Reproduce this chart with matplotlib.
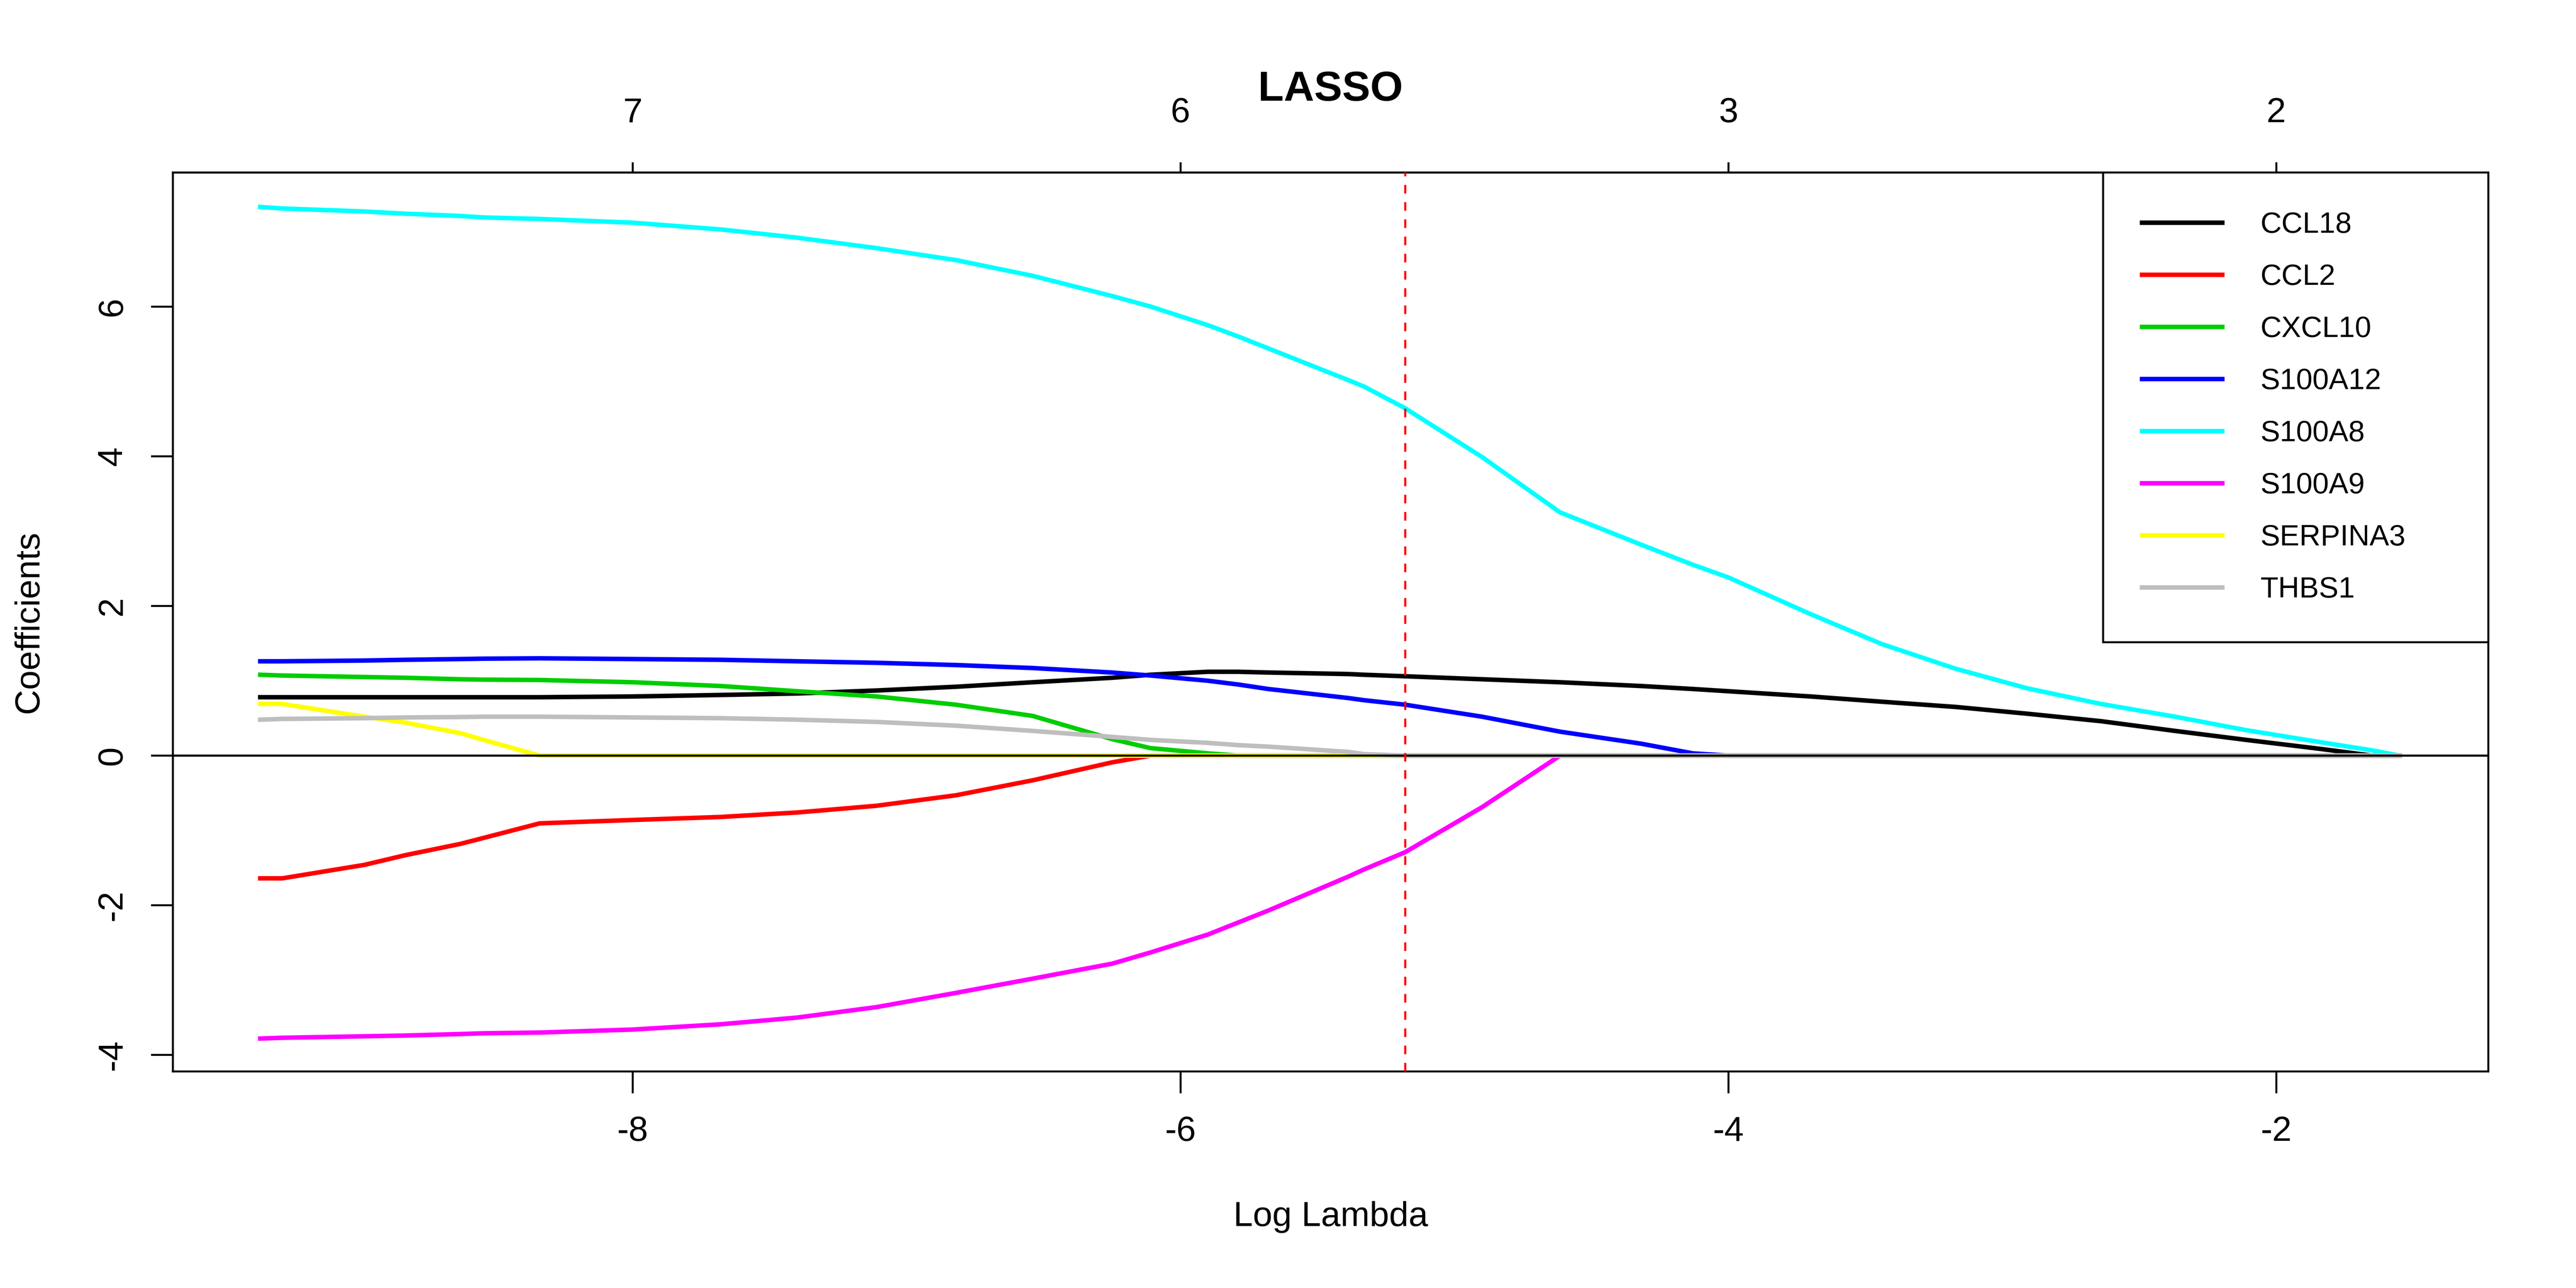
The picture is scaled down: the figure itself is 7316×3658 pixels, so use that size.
import matplotlib
matplotlib.use("Agg")
import matplotlib.pyplot as plt

plt.rcParams["font.family"] = ["Liberation Sans", "DejaVu Sans"]
plt.rcParams["axes.unicode_minus"] = False

# log(lambda) grid of the path
log_lambda = [-9.36, -9.28, -8.98, -8.83, -8.63, -8.545, -8.34, -8.0, -7.68, -7.40,
              -7.11, -6.82, -6.54, -6.25, -6.11, -5.90, -5.79, -5.68, -5.39, -5.33,
              -5.18, -4.90, -4.615, -4.32, -4.13, -4.0, -3.70, -3.44, -3.17, -2.91,
              -2.64, -2.37, -2.11, -1.84, -1.65, -1.55]

genes = ["CCL18", "CCL2", "CXCL10", "S100A12", "S100A8", "S100A9", "SERPINA3", "THBS1"]
colors = ["#000000", "#FF0000", "#00CD00", "#0000FF", "#00FFFF", "#FF00FF", "#FFFF00", "#BEBEBE"]

ccl18 = [0.78, 0.78, 0.78, 0.78, 0.78, 0.78, 0.78, 0.79, 0.81, 0.83,
         0.87, 0.92, 0.98, 1.04, 1.08, 1.12, 1.12, 1.11, 1.09, 1.08,
         1.06, 1.02, 0.98, 0.93, 0.89, 0.86, 0.79, 0.72, 0.65, 0.56,
         0.46, 0.33, 0.21, 0.09, 0.0, 0.0]
ccl2 = [-1.64, -1.64, -1.46, -1.33, -1.18, -1.10, -0.905, -0.86, -0.82, -0.76,
        -0.67, -0.53, -0.33, -0.09, 0.0, 0.0, 0.0, 0.0, 0.0, 0.0,
        0.0, 0.0, 0.0, 0.0, 0.0, 0.0, 0.0, 0.0, 0.0, 0.0,
        0.0, 0.0, 0.0, 0.0, 0.0, 0.0]
cxcl10 = [1.08, 1.07, 1.05, 1.04, 1.02, 1.015, 1.01, 0.98, 0.93, 0.86,
          0.79, 0.68, 0.53, 0.22, 0.10, 0.03, 0.0, 0.0, 0.0, 0.0,
          0.0, 0.0, 0.0, 0.0, 0.0, 0.0, 0.0, 0.0, 0.0, 0.0,
          0.0, 0.0, 0.0, 0.0, 0.0, 0.0]
s100a12 = [1.26, 1.26, 1.27, 1.28, 1.29, 1.295, 1.30, 1.29, 1.28, 1.26,
           1.24, 1.21, 1.17, 1.11, 1.07, 1.00, 0.95, 0.89, 0.77, 0.74,
           0.68, 0.52, 0.32, 0.16, 0.03, 0.0, 0.0, 0.0, 0.0, 0.0,
           0.0, 0.0, 0.0, 0.0, 0.0, 0.0]
s100a8 = [7.33, 7.31, 7.27, 7.24, 7.21, 7.19, 7.17, 7.12, 7.03, 6.92,
          6.78, 6.62, 6.41, 6.14, 6.00, 5.75, 5.60, 5.44, 5.02, 4.93,
          4.64, 3.99, 3.25, 2.82, 2.55, 2.38, 1.89, 1.49, 1.16, 0.90,
          0.69, 0.52, 0.34, 0.18, 0.07, 0.0]
s100a9 = [-3.78, -3.77, -3.75, -3.74, -3.72, -3.71, -3.70, -3.66, -3.59, -3.50,
          -3.36, -3.17, -2.98, -2.78, -2.63, -2.39, -2.23, -2.07, -1.62, -1.52,
          -1.29, -0.69, 0.0, 0.0, 0.0, 0.0, 0.0, 0.0, 0.0, 0.0,
          0.0, 0.0, 0.0, 0.0, 0.0, 0.0]
serpina3 = [0.69, 0.69, 0.52, 0.44, 0.30, 0.21, 0.0, 0.0, 0.0, 0.0,
            0.0, 0.0, 0.0, 0.0, 0.0, 0.0, 0.0, 0.0, 0.0, 0.0,
            0.0, 0.0, 0.0, 0.0, 0.0, 0.0, 0.0, 0.0, 0.0, 0.0,
            0.0, 0.0, 0.0, 0.0, 0.0, 0.0]
thbs1 = [0.48, 0.49, 0.50, 0.51, 0.515, 0.52, 0.52, 0.51, 0.50, 0.48,
         0.45, 0.40, 0.33, 0.25, 0.21, 0.17, 0.14, 0.12, 0.05, 0.02,
         0.0, 0.0, 0.0, 0.0, 0.0, 0.0, 0.0, 0.0, 0.0, 0.0,
         0.0, 0.0, 0.0, 0.0, 0.0, 0.0]

coefs = [ccl18, ccl2, cxcl10, s100a12, s100a8, s100a9, serpina3, thbs1]

# number of nonzero coefficients shown on top axis
df_at = [-8, -6, -4, -2]
df_labels = ["7", "6", "3", "2"]

lambda_min_log = -5.18

fig = plt.figure(figsize=(7316 / 400, 3658 / 400), dpi=400)
ax = fig.add_axes([0.06711, 0.16812, 0.89885, 0.69792])

for name, col, vals in zip(genes, colors, coefs):
    ax.plot(log_lambda, vals, color=col, lw=2.3, label=name, zorder=2)

ax.axhline(0, color="black", lw=1.1, zorder=3)
ax.axvline(lambda_min_log, color="red", lw=1.1, ls=(0, (4, 4)), zorder=4)

ax.set_xlim(-9.679, -1.226)
ax.set_ylim(-4.22, 7.79)
ax.set_xticks([-8, -6, -4, -2])
ax.set_yticks([-4, -2, 0, 2, 4, 6])
ax.tick_params(axis="both", direction="out", length=11.2, width=1.0,
               labelsize=17.9, pad=11.5)
for lab in ax.get_yticklabels():
    lab.set_rotation(90)
    lab.set_va("center")
for sp in ax.spines.values():
    sp.set_linewidth(1.0)

secax = ax.secondary_xaxis("top")
secax.set_xticks(df_at, labels=df_labels)
secax.tick_params(direction="out", length=5.2, width=1.0, labelsize=17.9, pad=17)
secax.spines["top"].set_linewidth(1.0)

ax.set_xlabel("Log Lambda", fontsize=17.9)
ax.xaxis.set_label_coords(0.5, -0.1441)
ax.set_ylabel("Coefficients", fontsize=17.9)
ax.yaxis.set_label_coords(-0.0552, 0.5)

ax.set_title("LASSO", fontsize=21.5, fontweight="bold", y=1.0799, pad=0)

leg = ax.legend(loc="upper right", bbox_to_anchor=(0.8336, 0.0, 0.1664, 1.0),
                mode="expand", borderaxespad=0, fontsize=15.0,
                handlelength=2.74, handletextpad=1.3, labelspacing=0.84,
                borderpad=1.32, fancybox=False, framealpha=1, edgecolor="black")
leg.get_frame().set_linewidth(1.0)
leg.set_zorder(5)

fig.savefig("out.png", dpi=400)
